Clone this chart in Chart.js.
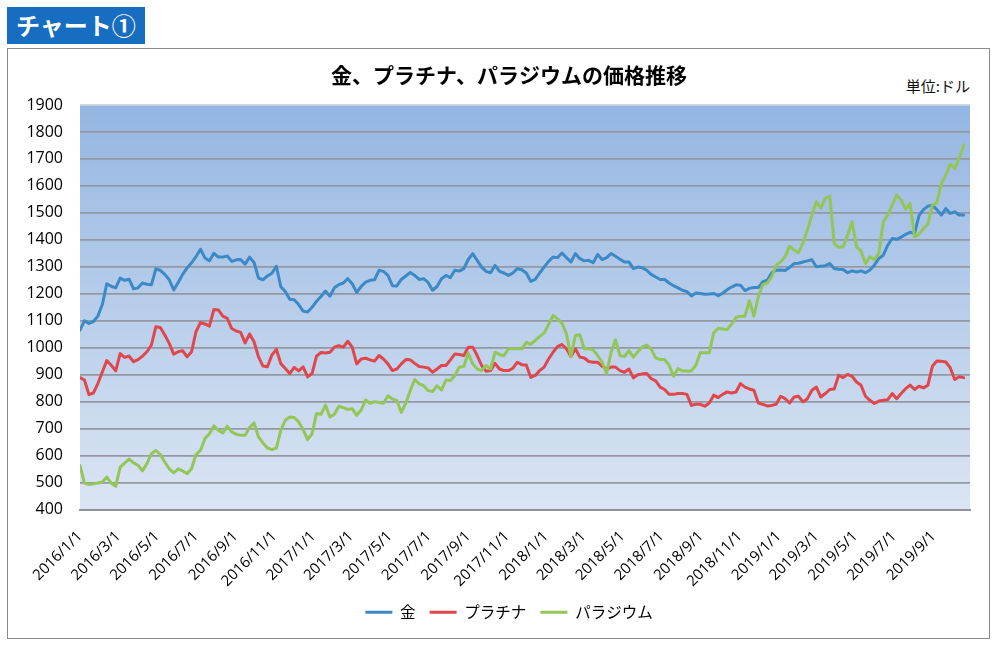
<!DOCTYPE html>
<html>
<head>
<meta charset="utf-8">
<script src="https://cdn.jsdelivr.net/npm/chart.js@4/dist/chart.umd.min.js"></script>
<style>
  html, body { margin: 0; padding: 0; background: #ffffff; }
  body { width: 1000px; height: 648px; position: relative; overflow: hidden; }
  #header { position: absolute; left: 7px; top: 7px; width: 138px; height: 37px; background: #176dbf;
            color: #fff; font: bold 24px "Noto Sans CJK JP", sans-serif; line-height: 36px; padding-left: 9px; box-sizing: border-box; }
  #frame { position: absolute; left: 7px; top: 48px; width: 983px; height: 591px; border: 1px solid #8a8a8a; box-sizing: border-box; }
  #unit { position: absolute; left: 880px; width: 90px; top: 76px; text-align: right; font: 15px "Noto Sans CJK JP", sans-serif; line-height: 20px; color: #111; }
  #wrap { position: absolute; left: 0; top: 0; width: 1000px; height: 648px; }
</style>
</head>
<body>
<div id="header">チャート①</div>
<div id="frame"></div>
<div id="unit">単位:ドル</div>
<div id="wrap"><canvas id="c" width="1000" height="648"></canvas></div>
<script>
// ---- Data (weekly, starting 2016/1/1) ----
const startDate = [2016, 1, 1];
const weekStepDays = 7;
const seriesNames = ['金', 'プラチナ', 'パラジウム'];

const gold = [
  1065, 1100, 1090, 1097, 1117, 1160, 1237, 1228, 1222, 1258,
  1250, 1254, 1218, 1222, 1240, 1235, 1233, 1292, 1287, 1272,
  1252, 1214, 1242, 1272, 1296, 1315, 1338, 1365, 1333, 1322,
  1350, 1336, 1336, 1340, 1320, 1326, 1327, 1310, 1336, 1316,
  1258, 1252, 1266, 1276, 1302, 1226, 1208, 1180, 1178, 1160,
  1136, 1132, 1150, 1172, 1190, 1210, 1191, 1222, 1234, 1240,
  1256, 1237, 1205, 1227, 1243, 1250, 1252, 1287, 1283, 1268,
  1230, 1229, 1253, 1266, 1279, 1268, 1253, 1256, 1242, 1213,
  1227, 1256, 1268, 1260, 1287, 1284, 1293, 1327, 1349, 1324,
  1299, 1283, 1278, 1305, 1283, 1277, 1268, 1277, 1293, 1289,
  1277, 1246, 1253, 1277, 1299, 1320, 1336, 1334, 1351, 1334,
  1318, 1349, 1330, 1322, 1324, 1315, 1346, 1327, 1334, 1349,
  1339, 1328, 1318, 1318, 1293, 1299, 1296, 1287, 1272, 1262,
  1253, 1253, 1240, 1230, 1222, 1213, 1208, 1192, 1203, 1201,
  1198, 1199, 1201, 1193, 1202, 1215, 1225, 1233, 1232, 1212,
  1220, 1223, 1223, 1245, 1250, 1278, 1287, 1288, 1286, 1298,
  1312, 1313, 1318, 1322, 1326, 1300, 1302, 1304, 1312, 1294,
  1291, 1290, 1278, 1285, 1281, 1285, 1278, 1288, 1306, 1331,
  1343, 1380, 1405, 1402, 1410, 1420, 1428, 1424, 1490, 1512,
  1525, 1528, 1512, 1492, 1516, 1498, 1504, 1492, 1492
];

const platinum = [
  889, 880, 826, 832, 867, 910, 952, 935, 914, 978,
  964, 969, 948, 956, 969, 985, 1010, 1078, 1075, 1047,
  1016, 976, 985, 989, 966, 985, 1060, 1093, 1088, 1080,
  1142, 1140, 1117, 1109, 1071, 1062, 1057, 1018, 1051, 1022,
  966, 932, 929, 973, 994, 941, 923, 904, 927, 914,
  929, 892, 904, 969, 982, 980, 983, 1002, 1008, 1002,
  1024, 1002, 940, 958, 961, 955, 950, 971, 958, 940,
  915, 921, 940, 956, 955, 942, 930, 928, 925, 909,
  921, 934, 934, 955, 977, 975, 971, 1002, 1002, 971,
  934, 913, 915, 942, 921, 915, 915, 924, 946, 937,
  936, 890, 897, 915, 928, 958, 983, 1004, 1012, 996,
  967, 996, 965, 962, 949, 946, 946, 931, 921, 928,
  928, 915, 909, 921, 888, 900, 903, 904, 885, 877,
  854, 845, 827, 827, 830, 830, 827, 786, 790, 790,
  783, 795, 824, 815, 827, 836, 832, 836, 867, 854,
  847, 842, 795, 790, 784, 786, 790, 820, 811, 795,
  817, 820, 799, 811, 842, 854, 817, 830, 845, 847,
  898, 889, 901, 894, 873, 861, 820, 805, 793, 802,
  805, 807, 830, 811, 830, 848, 861, 845, 857, 851,
  861, 931, 951, 950, 947, 926, 882, 892, 889
];

const palladium = [
  563, 498, 493, 495, 498, 502, 520, 498, 486, 557,
  572, 587, 573, 564, 543, 570, 607, 619, 604, 576,
  551, 536, 551, 543, 533, 551, 604, 619, 663, 681,
  710, 694, 684, 709, 688, 679, 675, 675, 704, 721,
  669, 647, 628, 622, 628, 694, 731, 743, 741, 725,
  696, 659, 681, 756, 753, 787, 743, 753, 783, 778,
  771, 774, 749, 769, 806, 794, 800, 797, 794, 822,
  810, 804, 760, 794, 841, 882, 866, 859, 841, 837,
  859, 843, 880, 878, 897, 928, 930, 980, 940, 921,
  915, 934, 921, 983, 975, 970, 996, 996, 996, 996,
  1020, 1012, 1027, 1042, 1054, 1086, 1120, 1107, 1091, 1051,
  967, 1045, 1048, 996, 996, 992, 971, 946, 905, 983,
  1029, 971, 967, 989, 965, 985, 1002, 1010, 995, 962,
  956, 956, 935, 894, 923, 914, 914, 914, 935, 981,
  981, 981, 1055, 1072, 1069, 1067, 1087, 1112, 1117, 1117,
  1174, 1117, 1189, 1234, 1240, 1263, 1306, 1319, 1337, 1377,
  1362, 1352, 1389, 1436, 1492, 1541, 1517, 1554, 1562, 1387,
  1372, 1374, 1418, 1467, 1374, 1359, 1312, 1337, 1327, 1350,
  1467, 1492, 1529, 1566, 1548, 1513, 1535, 1411, 1421, 1442,
  1458, 1529, 1538, 1609, 1640, 1681, 1665, 1702, 1752
];

const xTickLabels = [
  '2016/1/1', '2016/3/1', '2016/5/1', '2016/7/1', '2016/9/1', '2016/11/1',
  '2017/1/1', '2017/3/1', '2017/5/1', '2017/7/1', '2017/9/1', '2017/11/1',
  '2018/1/1', '2018/3/1', '2018/5/1', '2018/7/1', '2018/9/1', '2018/11/1',
  '2019/1/1', '2019/3/1', '2019/5/1', '2019/7/1', '2019/9/1'
];
const yTickValues = [400, 500, 600, 700, 800, 900, 1000, 1100, 1200, 1300, 1400, 1500, 1600, 1700, 1800, 1900];
const axisEndDate = '2019/10/28';

// ---- helpers ----
const DAY = 86400000;
const t0 = Date.UTC(startDate[0], startDate[1] - 1, startDate[2]);
function dayOffset(label) {
  const [y, m, d] = label.split('/').map(Number);
  return Math.round((Date.UTC(y, m - 1, d) - t0) / DAY);
}
const xTickDays = xTickLabels.map(dayOffset);
const toPoints = arr => arr.map((v, i) => ({ x: i * weekStepDays, y: v }));

const plotBg = {
  id: 'plotBg',
  beforeDraw(chart) {
    const { ctx, chartArea: a } = chart;
    const g = ctx.createLinearGradient(0, a.top, 0, a.bottom);
    g.addColorStop(0, '#94b6e2');
    g.addColorStop(1, '#dbe5f3');
    ctx.save();
    ctx.fillStyle = g;
    ctx.fillRect(a.left, a.top, a.right - a.left, a.bottom - a.top);
    ctx.restore();
  }
};

// centre title and legend where the reference has them (x ≈ 509)
const centreShift = {
  id: 'centreShift',
  afterLayout(chart) {
    const dx = 509 - (chart.titleBlock.left + chart.titleBlock.right) / 2;
    [chart.titleBlock, chart.legend].forEach(b => { b.left += dx; b.right += dx; });
  }
};

const FONT_NUM = '"Open Sans", "Liberation Sans", sans-serif';
const FONT_JP = '"Noto Sans CJK JP", sans-serif';

new Chart(document.getElementById('c'), {
  type: 'line',
  data: {
    datasets: [
      { label: seriesNames[0], data: toPoints(gold), borderColor: '#3b89c6', backgroundColor: '#3b89c6', borderWidth: 3, order: 3 },
      { label: seriesNames[1], data: toPoints(platinum), borderColor: '#e0474c', backgroundColor: '#e0474c', borderWidth: 3, order: 2 },
      { label: seriesNames[2], data: toPoints(palladium), borderColor: '#93c656', backgroundColor: '#93c656', borderWidth: 3, order: 1 }
    ]
  },
  options: {
    responsive: false,
    animation: false,
    events: [],
    elements: {
      line: { borderWidth: 3, tension: 0, borderJoinStyle: 'round', borderCapStyle: 'round' },
      point: { radius: 0 }
    },
    layout: { padding: { left: 0, right: 30, top: 0, bottom: 18 } },
    scales: {
      x: {
        type: 'linear',
        min: 0,
        max: dayOffset(axisEndDate),
        afterBuildTicks(scale) { scale.ticks = xTickDays.map(v => ({ value: v })); },
        afterFit(scale) { scale.height = 81; },
        grid: { display: false, drawTicks: false },
        border: { display: true, color: '#8e929a', width: 2 },
        ticks: {
          autoSkip: false,
          maxRotation: 45,
          minRotation: 45,
          padding: 18,
          color: '#000',
          font: { family: FONT_NUM, size: 15 },
          callback(value) {
            const idx = xTickDays.indexOf(value);
            return idx >= 0 ? xTickLabels[idx] : '';
          }
        }
      },
      y: {
        min: 400,
        max: 1900,
        afterBuildTicks(scale) { scale.ticks = yTickValues.map(v => ({ value: v })); },
        afterFit(scale) { scale.width = 80; },
        grid: {
          drawTicks: false,
          color: ctx => (ctx.tick && ctx.tick.value === 1900) ? '#d3d6dc' : '#9498a2',
          lineWidth: 1.8
        },
        border: { display: false },
        ticks: {
          padding: 17,
          color: '#000',
          font: { family: FONT_NUM, size: 16 },
          callback: v => String(v)
        }
      }
    },
    plugins: {
      title: {
        display: true,
        text: '金、プラチナ、パラジウムの価格推移',
        color: '#000',
        font: { family: FONT_JP, size: 21, weight: 'bold', lineHeight: 1.2 },
        padding: { top: 62.4, bottom: 17.4 }
      },
      legend: {
        display: true,
        position: 'bottom',
        labels: {
          usePointStyle: true,
          pointStyle: 'line',
          pointStyleWidth: 27,
          padding: 14,
          color: '#000',
          font: { family: FONT_JP, size: 15.5 },
          sort: (a, b) => a.datasetIndex - b.datasetIndex
        }
      },
      tooltip: { enabled: false }
    }
  },
  plugins: [plotBg, centreShift]
});
</script>
</body>
</html>
